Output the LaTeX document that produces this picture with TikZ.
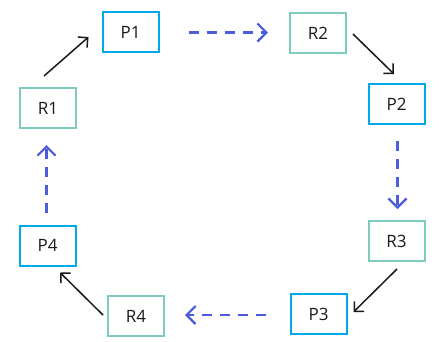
\documentclass[tikz,border=0pt]{standalone}
\usepackage{fontspec}
\setmainfont{Open Sans}
\usetikzlibrary{arrows.meta}
\definecolor{pblue}{HTML}{00A8E8}
\definecolor{rteal}{HTML}{7ECCC0}
\definecolor{dblue}{HTML}{4D5CDB}
\definecolor{txt}{HTML}{1A1A1A}
\tikzset{
  box/.style={draw, line width=2pt, minimum width=56pt, minimum height=40pt, inner sep=0pt, outer sep=0pt, text=txt, font=\fontsize{17}{20}\selectfont},
  pbox/.style={box, draw=pblue},
  rbox/.style={box, draw=rteal},
  solidarr/.style={draw=black!90, line width=1.5pt, -{Straight Barb[length=7pt,width=14pt,line width=1.5pt]}},
  dasharr/.style={draw=dblue, line width=2.4pt, dash pattern=on 10pt off 8pt, -{Straight Barb[length=9pt,width=18pt,line width=2.2pt]}},
}
\begin{document}
\begin{tikzpicture}[x=1pt,y=-1pt]
\useasboundingbox[fill=white] (0,0) rectangle (439,341);
\node[pbox] (P1) at (130.5,32) {P1};
\node[rbox] (R2) at (318,33) {R2};
\node[pbox] (P2) at (396.5,104) {P2};
\node[rbox] (R3) at (396.5,241) {R3};
\node[pbox] (P3) at (318.5,314) {P3};
\node[rbox] (R4) at (136,316) {R4};
\node[pbox] (P4) at (47.5,245.5) {P4};
\node[rbox] (R1) at (48,108) {R1};

\draw[solidarr] ([shift={(-4,-12)}]R1.north) -- ([shift={(-14,5)}]P1.west);
\draw[dasharr] ([shift={(30,0.5)}]P1.east) -- ([shift={(-22,-0.5)}]R2.west);
\draw[solidarr] ([shift={(7,1)}]R2.east) -- ([shift={(-2.5,-10)}]P2.north);
\draw[dasharr] ([shift={(1,17)}]P2.south) -- ([shift={(1,-12)}]R3.north);
\draw[solidarr] ([shift={(0.5,8)}]R3.south) -- ([shift={(7,-2)}]P3.east);
\draw[dasharr] ([shift={(-25,1)}]P3.west) -- ([shift={(21,-1)}]R4.east);
\draw[solidarr] ([shift={(-5,-1)}]R4.west) -- ([shift={(12.5,7)}]P4.south);
\draw[dasharr] ([shift={(-1,-13)}]P4.north) -- ([shift={(-1.5,17)}]R1.south);
\end{tikzpicture}
\end{document}
